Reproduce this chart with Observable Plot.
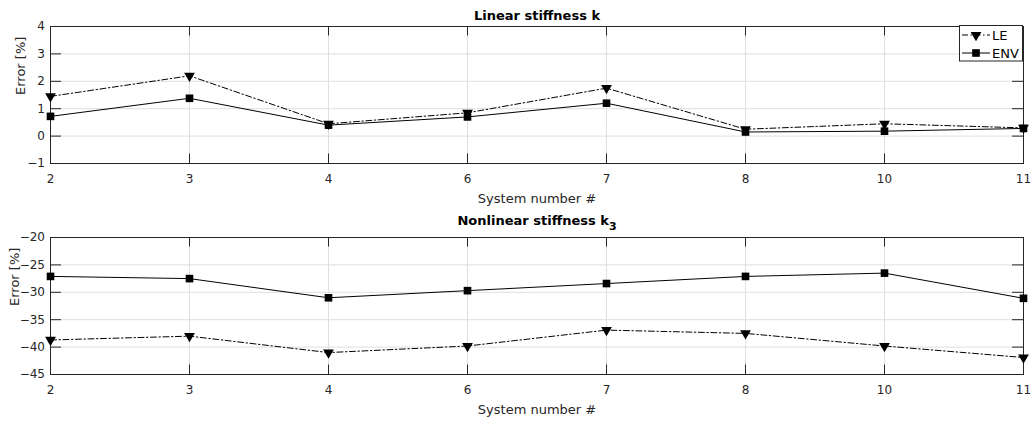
<!DOCTYPE html>
<html><head><meta charset="utf-8">
<script src="https://cdn.jsdelivr.net/npm/d3@7"></script>
<script src="https://cdn.jsdelivr.net/npm/@observablehq/plot@0.6"></script>
<style>
body{margin:0;background:#fff;}
#chart{width:1031px;height:421px;position:relative;background:#fff;}
#chart svg{display:block;}
</style></head><body><div id="chart"></div>
<script>
const systems = ["2","3","4","6","7","8","10","11"];
const seriesNames = ["LE","ENV"];
const linearLE  = [1.45, 2.2, 0.45, 0.85, 1.75, 0.25, 0.45, 0.3];
const linearENV = [0.72, 1.38, 0.4, 0.7, 1.2, 0.15, 0.18, 0.28];
const nonlinearLE  = [-38.7, -38.0, -41.0, -39.8, -36.9, -37.5, -39.8, -41.9];
const nonlinearENV = [-27.1, -27.5, -31.0, -29.7, -28.4, -27.1, -26.5, -31.1];
const linearTicks = [-1, 0, 1, 2, 3, 4];
const nonlinearTicks = [-45, -40, -35, -30, -25, -20];
const xLabel = "System number #";
const yLabel = "Error [%]";

const DASHDOT = "6,2.5,1.5,2.5";
const FRAME = "#262626";
const GRID = "#dfdfdf";

function panel({title, le, env, yTicks, height, marginTop, marginBottom, titleDy, ylabelDx}) {
  const W = 1031, ML = 50, MR = 8;
  const fw = W - ML - MR, fh = height - marginTop - marginBottom;
  const tx = 9.5, ty = 11;
  const leRows = systems.map((s, i) => ({system: s, series: seriesNames[0], value: le[i]}));
  const envRows = systems.map((s, i) => ({system: s, series: seriesNames[1], value: env[i]}));
  return Plot.plot({
    width: W, height, marginLeft: ML, marginRight: MR, marginTop, marginBottom,
    style: {fontFamily: "DejaVu Sans", fontSize: "12px", color: FRAME, background: "#fff", overflow: "visible"},
    x: {type: "point", domain: systems, padding: 0},
    y: {domain: [yTicks[0], yTicks[yTicks.length - 1]]},
    marks: [
      Plot.gridX(systems, {stroke: GRID, strokeOpacity: 1}),
      Plot.gridY(yTicks, {stroke: GRID, strokeOpacity: 1}),
      Plot.ruleX(systems, {insetTop: fh - tx, stroke: FRAME}),
      Plot.ruleX(systems, {insetBottom: fh - tx, stroke: FRAME}),
      Plot.ruleY(yTicks, {insetRight: fw - ty, stroke: FRAME}),
      Plot.ruleY(yTicks, {insetLeft: fw - ty, stroke: FRAME}),
      Plot.frame({stroke: FRAME}),
      Plot.axisX(systems, {tickSize: 0, tickPadding: 11, label: null}),
      Plot.axisY(yTicks, {tickSize: 0, tickPadding: 5.5, label: null}),
      Plot.line(leRows, {x: "system", y: "value", stroke: "black", strokeWidth: 1, strokeDasharray: DASHDOT}),
      Plot.line(envRows, {x: "system", y: "value", stroke: "black", strokeWidth: 1}),
      Plot.dot(leRows, {x: "system", y: "value", symbol: "triangle", rotate: 180, r: 4, fill: "black", stroke: "none"}),
      Plot.dot(envRows, {x: "system", y: "value", symbol: "square", r: 4.3, fill: "black", stroke: "none"}),
      Plot.text([title], {frameAnchor: "top", lineAnchor: "bottom", dy: titleDy, fontWeight: "bold", fontSize: 13, fill: "black"}),
      Plot.text([xLabel], {frameAnchor: "bottom", lineAnchor: "bottom", dy: 39.7, fontSize: 13, fill: FRAME}),
      Plot.text([yLabel], {frameAnchor: "left", rotate: -90, dx: ylabelDx, fontSize: 13, fill: FRAME})
    ]
  });
}

const topPanel = panel({title: "Linear stiffness k", le: linearLE, env: linearENV, yTicks: linearTicks,
  height: 210, marginTop: 26, marginBottom: 47, titleDy: -7, ylabelDx: -30});
const bottomPanel = panel({title: "Nonlinear stiffness k", le: nonlinearLE, env: nonlinearENV, yTicks: nonlinearTicks,
  height: 211, marginTop: 27, marginBottom: 47, titleDy: -12.5, ylabelDx: -36});

// subscript on nonlinear title
d3.select(bottomPanel).selectAll("text").filter(function() { return this.textContent === "Nonlinear stiffness k"; })
  .append("tspan").attr("dy", "0.45em").attr("font-size", 11).text("3");

// legend in top panel
(function() {
  const svg = d3.select(topPanel);
  const g = svg.append("g").attr("font-family", "DejaVu Sans").attr("font-size", 13).attr("text-anchor", "start");
  g.append("rect").attr("x", 959.5).attr("y", 25.5).attr("width", 63).attr("height", 35.5)
    .attr("fill", "#fff").attr("stroke", FRAME);
  const styles = [{dash: DASHDOT, symbol: d3.symbolTriangle, rot: 180, size: 50}, {dash: null, symbol: d3.symbolSquare, rot: 0, size: 58}];
  seriesNames.forEach((name, i) => {
    const y = 35 + i * 18;
    g.append("line").attr("x1", 962).attr("x2", 990).attr("y1", y).attr("y2", y)
      .attr("stroke", "black").attr("stroke-dasharray", styles[i].dash);
    g.append("path").attr("d", d3.symbol(styles[i].symbol, styles[i].size)())
      .attr("transform", `translate(976,${y}) rotate(${styles[i].rot})`).attr("fill", "black");
    g.append("text").attr("x", 992).attr("y", y).attr("dy", "0.35em").attr("text-anchor", "start").attr("fill", "black").text(name);
  });
})();

document.getElementById("chart").append(topPanel, bottomPanel);
</script>
</body></html>
